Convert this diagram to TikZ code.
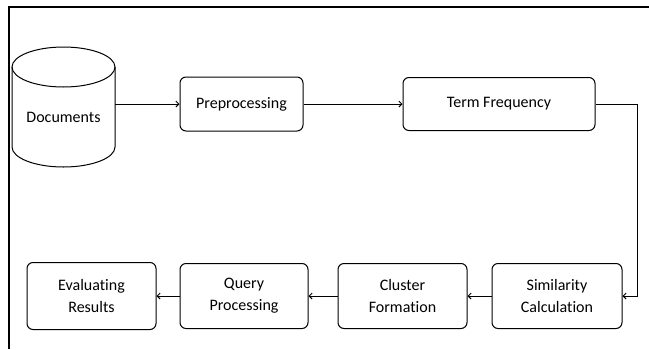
\documentclass[tikz,border=0pt]{standalone}
\usepackage{fontspec}
\setmainfont{Carlito}[Ligatures=NoCommon]
\usetikzlibrary{arrows.meta}

\begin{document}
\begin{tikzpicture}[x=1pt, y=-1pt,
        box/.style={draw, line width=1pt, rounded corners=6pt, align=center,
            font=\fontsize{16}{22}\selectfont},
        arr/.style={-{Straight Barb[length=3pt,width=6pt]}, line width=0.9pt}]
        \useasboundingbox (0,0) rectangle (649,349);
        \draw[line width=1.2pt] (9,349) -- (9,7) -- (649,7);

        % database cylinder
        \draw[line width=1pt] (12,67) -- (12,147) arc (180:0:51.5 and 20) -- (115,67);
        \draw[line width=1pt] (63.5,67) ellipse (51.5 and 20);
        \node[minimum width=103pt, minimum height=100pt,
            font=\fontsize{16}{22}\selectfont] (docs) at (63.5,117) {Documents};

        \node[box, minimum width=123pt, minimum height=54pt] (pre) at (241.5,104) {Preprocessing};
        \node[box, minimum width=192pt, minimum height=53pt] (tf) at (499,104) {Term Frequency};
        \node[box, minimum width=130pt, minimum height=65pt] (sim) at (557,296) {Similarity\\Calculation};
        \node[box, minimum width=129pt, minimum height=65pt] (clu) at (402.5,296) {Cluster\\Formation};
        \node[box, minimum width=128pt, minimum height=65pt] (qry) at (244,296) {Query\\Processing};
        \node[box, minimum width=129pt, minimum height=67pt] (eva) at (91.5,296) {Evaluating\\Results};

        \draw[arr] (docs.east |- pre) -- (pre);
        \draw[arr] (pre) -- (tf);
        \draw[arr] (tf.east) -- ++(42,0) |- (sim.east);
        \draw[arr] (sim) -- (clu);
        \draw[arr] (clu) -- (qry);
        \draw[arr] (qry) -- (eva);
    \end{tikzpicture}
\end{document}
